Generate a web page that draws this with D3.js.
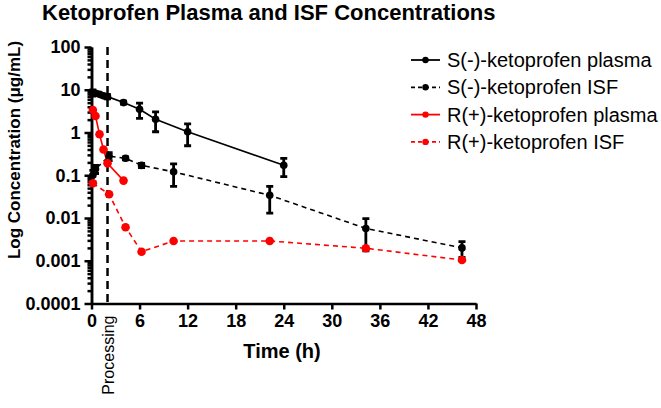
<!DOCTYPE html>
<html>
<head>
<meta charset="utf-8">
<script src="https://cdn.jsdelivr.net/npm/d3@7"></script>
<style>
  body { margin: 0; background: #fff; }
  svg { display: block; font-family: "Liberation Sans", Arial, sans-serif; }
</style>
</head>
<body>
<script>
// sampling times (h) and concentrations (ug/mL)
var sPlasmaT  = [0.17, 0.5, 1, 1.5, 2, 4, 6, 8, 12, 24];
var sPlasma   = [8.5, 8.3, 7.8, 7.2, 6.9, 5.0, 3.5, 2.04, 1.04, 0.171];
var sPlasmaSD = [1.4, 0.6, 0.5, 0.5, 0.8, 0.4, 1.35, 1.0, 0.55, 0.078];

var sIsfT  = [0.17, 0.5, 2.2, 4.25, 6.25, 10.25, 22.25, 34.25, 46.25];
var sIsf   = [0.1, 0.14, 0.28, 0.25, 0.17, 0.12, 0.034, 0.0057, 0.002];
var sIsfSD = [0.03, 0.03, 0.06, 0.02, 0.02, 0.065, 0.021, 0.004, 0.0008];

var rPlasmaT = [0.17, 0.5, 1, 1.5, 2, 4];
var rPlasma  = [3.36, 2.43, 0.91, 0.40, 0.19, 0.075];

var rIsfT = [0.17, 2.2, 4.25, 6.25, 10.25, 22.25, 34.25, 46.25];
var rIsf  = [0.065, 0.036, 0.0061, 0.00163, 0.0029, 0.0029, 0.00196, 0.00104];

var xTicks = [0, 6, 12, 18, 24, 30, 36, 42, 48];
var yTicks = [0.0001, 0.001, 0.01, 0.1, 1, 10, 100];
var yTickLabels = ["0.0001", "0.001", "0.01", "0.1", "1", "10", "100"];
var processingTime = 2;

var seriesNames = ["S(-)-ketoprofen plasma", "S(-)-ketoprofen ISF",
                   "R(+)-ketoprofen plasma", "R(+)-ketoprofen ISF"];

var width = 661, height = 408;

var x = d3.scaleLinear().domain([0, 48]).range([91.5, 476]);
var y = d3.scaleLog().domain([0.0001, 100]).range([303.5, 47]);

var svg = d3.select("body").append("svg")
    .attr("width", width)
    .attr("height", height);

function zip(t, v, sd) {
  return t.map(function(d, i) { return {t: d, v: v[i], sd: sd ? sd[i] : 0}; });
}

var series = [
  {name: seriesNames[0], data: zip(sPlasmaT, sPlasma, sPlasmaSD), color: "#000", dash: null},
  {name: seriesNames[1], data: zip(sIsfT, sIsf, sIsfSD), color: "#000", dash: "5,4"},
  {name: seriesNames[2], data: zip(rPlasmaT, rPlasma), color: "#ff0000", dash: null},
  {name: seriesNames[3], data: zip(rIsfT, rIsf), color: "#ff0000", dash: "5,4"}
];

// title
svg.append("text")
    .attr("x", 42)
    .attr("y", 20)
    .style("font-size", "22px")
    .style("font-weight", "bold")
    .text("Ketoprofen Plasma and ISF Concentrations");

// y axis: minor ticks then major ticks with labels
var minors = [];
yTicks.slice(0, -1).forEach(function(d) {
  for (var k = 2; k <= 9; k++) minors.push(d * k);
});

svg.append("g")
    .attr("class", "axis minor")
    .attr("transform", "translate(" + x(0) + ",0)")
    .call(d3.axisLeft(y).tickValues(minors).tickSize(4).tickSizeOuter(0).tickFormat(""));

svg.append("g")
    .attr("class", "axis major")
    .attr("transform", "translate(" + x(0) + ",0)")
    .call(d3.axisLeft(y).tickValues(yTicks).tickSize(7).tickSizeOuter(0).tickPadding(4)
      .tickFormat(function(d, i) { return yTickLabels[i]; }));

svg.append("g")
    .attr("class", "axis xaxis")
    .attr("transform", "translate(0," + y(0.0001) + ")")
    .call(d3.axisBottom(x).tickValues(xTicks).tickSize(6).tickSizeOuter(0).tickPadding(5));

svg.selectAll(".axis path, .axis line")
    .attr("stroke", "#000")
    .attr("stroke-width", 2.5);
svg.selectAll(".axis text")
    .attr("fill", "#000")
    .style("font-size", "18px")
    .style("font-weight", "bold")
    .style("font-family", "'Liberation Sans', Arial, sans-serif");

// axis titles
svg.append("text")
    .attr("transform", "translate(20,150) rotate(-90)")
    .attr("text-anchor", "middle")
    .style("font-size", "17px")
    .style("font-weight", "bold")
    .text("Log Concentration (\u03bcg/mL)");

svg.append("text")
    .attr("x", 282)
    .attr("y", 358)
    .attr("text-anchor", "middle")
    .style("font-size", "20px")
    .style("font-weight", "bold")
    .text("Time (h)");

// processing marker
svg.append("line")
    .attr("x1", x(processingTime)).attr("x2", x(processingTime))
    .attr("y1", y(100)).attr("y2", y(0.0001))
    .attr("stroke", "#000")
    .attr("stroke-width", 2.5)
    .attr("stroke-dasharray", "8,5");

svg.append("text")
    .attr("transform", "translate(" + (x(processingTime) + 1) + "," + (y(0.0001) + 12) + ") rotate(-90)")
    .attr("text-anchor", "end")
    .attr("dominant-baseline", "central")
    .style("font-size", "16px")
    .text("Processing");

// lines
var line = d3.line()
    .x(function(d) { return x(d.t); })
    .y(function(d) { return y(d.v); });

series.forEach(function(s) {
  svg.append("path")
      .datum(s.data)
      .attr("fill", "none")
      .attr("stroke", s.color)
      .attr("stroke-width", 1.6)
      .attr("stroke-dasharray", s.dash)
      .attr("d", line);
});

// error bars and markers
series.forEach(function(s) {
  var g = svg.append("g");
  var eb = s.data.filter(function(d) { return d.sd > 0; });
  g.selectAll(".err")
      .data(eb)
    .enter().append("path")
      .attr("fill", "none")
      .attr("stroke", "#000")
      .attr("stroke-width", 2.8)
      .attr("d", function(d) {
        var cx = x(d.t), top = y(d.v + d.sd), bot = y(Math.max(d.v - d.sd, 1e-4));
        return "M" + (cx - 3.5) + "," + top + "H" + (cx + 3.5) +
               "M" + cx + "," + top + "V" + bot +
               "M" + (cx - 3.5) + "," + bot + "H" + (cx + 3.5);
      });
  g.selectAll("circle")
      .data(s.data)
    .enter().append("circle")
      .attr("cx", function(d) { return x(d.t); })
      .attr("cy", function(d) { return y(d.v); })
      .attr("r", s.color === "#000" ? 3.8 : 4.3)
      .attr("fill", s.color);
});

// legend
var legend = svg.selectAll(".legend")
    .data(series)
  .enter().append("g")
    .attr("class", "legend")
    .attr("transform", function(d, i) { return "translate(411," + (60 + i * 27.3) + ")"; });

legend.append("line")
    .attr("x1", 0).attr("x2", 29)
    .attr("stroke", function(d) { return d.color; })
    .attr("stroke-width", 1.8)
    .attr("stroke-dasharray", function(d) { return d.dash ? "4,3" : null; });

legend.append("circle")
    .attr("cx", 14.5)
    .attr("r", 3.2)
    .attr("fill", function(d) { return d.color; });

legend.append("text")
    .attr("x", 36)
    .attr("dy", "0.35em")
    .style("font-size", "20px")
    .text(function(d) { return d.name; });
</script>
</body>
</html>
